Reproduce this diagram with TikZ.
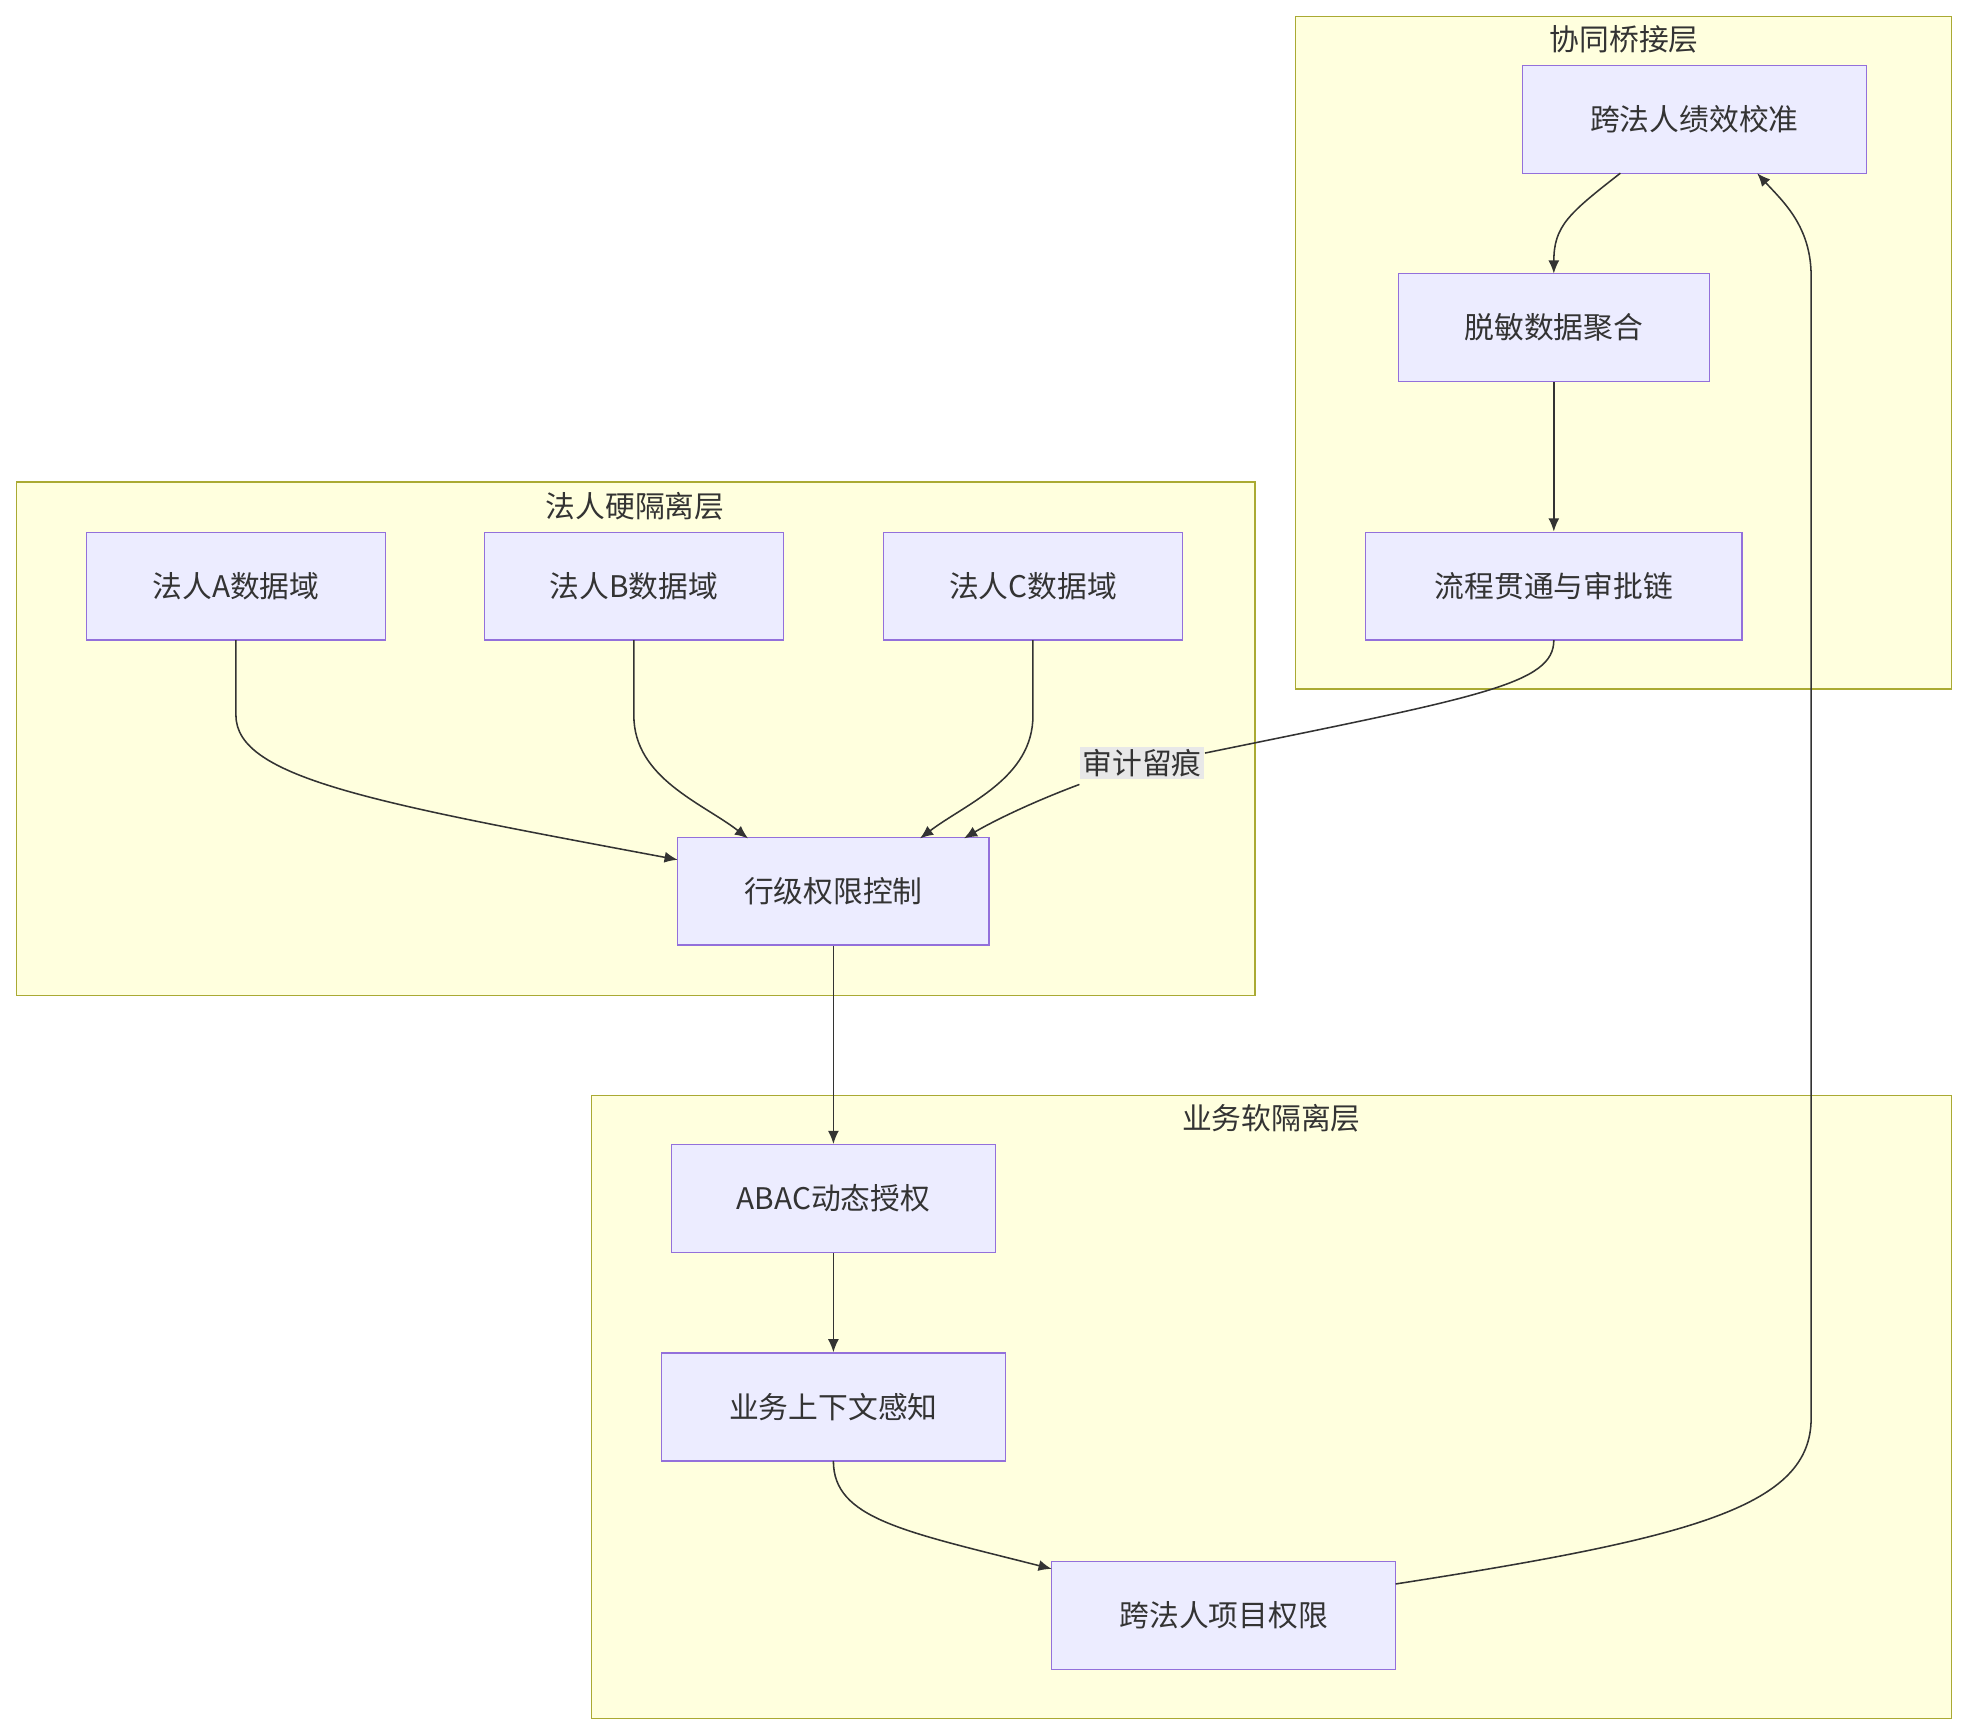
\documentclass[tikz,border=0pt]{standalone}
\usepackage{fontspec}
\setmainfont{Noto Sans CJK SC}
\usetikzlibrary{arrows.meta}
\definecolor{nfill}{HTML}{ECECFF}\definecolor{nline}{HTML}{9370DB}
\definecolor{cfill}{HTML}{FFFFDE}\definecolor{cline}{HTML}{AAAA33}
\definecolor{txt}{HTML}{333333}\definecolor{lbl}{HTML}{E8E8E8}
\begin{document}
\begin{tikzpicture}[x=0.02cm,y=-0.02cm,
 box/.style={draw=nline,fill=nfill,line width=0.6pt,minimum height=86*0.02cm,inner sep=0pt,text=txt,font=\fontsize{13.5}{16}\selectfont},
 clus/.style={draw=cline,fill=cfill,line width=0.6pt},
 ctitle/.style={text=txt,font=\fontsize{13.5}{16}\selectfont},
 e/.style={draw=txt,line width=0.7pt,-{Latex[length=6pt,width=5pt]}}]
\useasboundingbox (0,0) rectangle (1568,1383);
\draw[clus] (1032,13) rectangle (1555,549);
\node[ctitle] (t1) at (1294,31) {协同桥接层};
\draw[clus] (13,384) rectangle (1000,793);
\node[ctitle] (t2) at (506,403) {法人硬隔离层};
\draw[clus] (471,873) rectangle (1555,1369);
\node[ctitle] (t3) at (1013,891) {业务软隔离层};
\node[box,minimum width=274*0.02cm] (p1) at (1350,95) {跨法人绩效校准};
\node[box,minimum width=248*0.02cm] (p2) at (1238,261) {脱敏数据聚合};
\node[box,minimum width=300*0.02cm] (p3) at (1238,467) {流程贯通与审批链};
\node[box,minimum width=238*0.02cm] (a) at (188,467) {法人A数据域};
\node[box,minimum width=238*0.02cm] (b) at (505,467) {法人B数据域};
\node[box,minimum width=238*0.02cm] (c) at (823,467) {法人C数据域};
\node[box,minimum width=248*0.02cm] (r) at (664,710) {行级权限控制};
\node[box,minimum width=258*0.02cm] (abac) at (664,955) {ABAC动态授权};
\node[box,minimum width=274*0.02cm] (ctx) at (664,1121) {业务上下文感知};
\node[box,minimum width=274*0.02cm] (proj) at (975,1287) {跨法人项目权限};
\path[e] (1291,138) .. controls (1250,170) and (1238,180) .. (1238,218);
\path[e] (p2) -- (p3);
\path[e] (188,510) -- (188,570) .. controls (188,620) and (300,640) .. (540,685);
\path[e] (505,510) -- (505,570) .. controls (505,620) and (560,640) .. (596,668);
\path[e] (823,510) -- (823,570) .. controls (823,620) and (770,640) .. (733,668);
\draw[txt,line width=0.7pt] (1238,510) .. controls (1238,545) and (1180,555) .. (960,600);
\path[e] (860,625) .. controls (820,640) and (790,655) .. (768,668);
\node[fill=lbl,inner sep=1pt,text=txt,font=\fontsize{13.5}{16}\selectfont] (lab) at (910,608) {审计留痕};
\path[e] (r) -- (abac);
\path[e] (abac) -- (ctx);
\path[e] (664,1164) .. controls (664,1210) and (720,1220) .. (838,1250);
\path[e] (1112,1262) .. controls (1350,1225) and (1443,1200) .. (1443,1130) -- (1443,220) .. controls (1443,180) and (1420,160) .. (1400,138);
\end{tikzpicture}
\end{document}
